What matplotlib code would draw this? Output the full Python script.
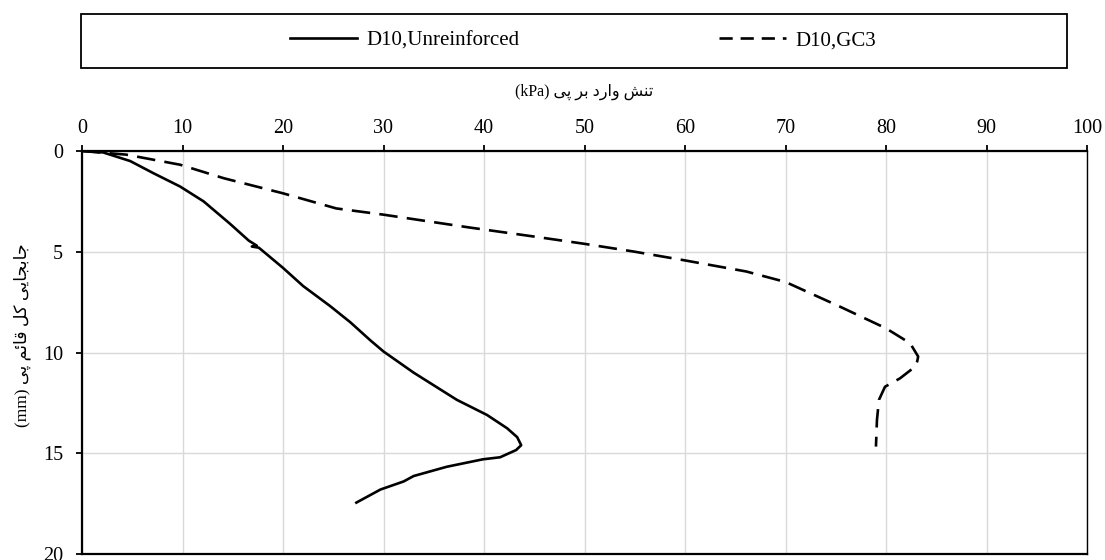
#!/usr/bin/env python3
"""load-settlement curves, D10 unreinforced vs GC3"""

import matplotlib
matplotlib.use("Agg")
import matplotlib.pyplot as plt
from matplotlib.lines import Line2D
from matplotlib.patches import Rectangle

# data (stress kPa, settlement mm)
unreinf_stress = [0.0, 2.1, 4.8, 7.1, 9.75, 12.1, 14.7, 16.6, 17.4, 16.9, 17.6,
                  20.0, 22.0, 24.7, 26.7, 28.7, 30.0, 33.0, 37.3, 40.3, 42.3,
                  43.3, 43.7, 43.2, 41.6, 39.9, 36.3, 33.0, 32.0, 29.7, 27.3]
unreinf_settle = [0.0, 0.07, 0.5, 1.1, 1.76, 2.5, 3.6, 4.45, 4.7, 4.74, 4.8,
                  5.8, 6.7, 7.7, 8.5, 9.4, 9.95, 11.0, 12.35, 13.1, 13.76,
                  14.2, 14.6, 14.84, 15.2, 15.3, 15.67, 16.13, 16.4, 16.8, 17.45]

gc3_stress = [0.0, 4.4, 9.75, 14.1, 20.0, 25.3, 30.0, 38.6, 44.9, 49.9, 54.9,
              60.0, 66.1, 70.0, 75.4, 80.0, 82.4, 83.2, 83.1, 82.9, 81.4, 79.9,
              79.3, 79.1, 79.0]
gc3_settle = [0.0, 0.18, 0.68, 1.35, 2.1, 2.85, 3.16, 3.8, 4.24, 4.6, 4.99,
              5.43, 5.98, 6.5, 7.72, 8.8, 9.54, 10.2, 10.45, 10.7, 11.28, 11.7,
              12.35, 13.35, 14.67]

x_ticks = [0, 10, 20, 30, 40, 50, 60, 70, 80, 90, 100]
y_ticks = [0, 5, 10, 15, 20]
labels = ["D10,Unreinforced", "D10,GC3"]

# minimal persian shaping (matplotlib has no bidi / joining)
FORMS = {
    "ا": (0xFE8D, 0xFE8E), "د": (0xFEA9, 0xFEAA), "ر": (0xFEAD, 0xFEAE),
    "و": (0xFEED, 0xFEEE),
    "ب": (0xFE8F, 0xFE90, 0xFE91, 0xFE92), "پ": (0xFB56, 0xFB57, 0xFB58, 0xFB59),
    "ت": (0xFE95, 0xFE96, 0xFE97, 0xFE98), "ج": (0xFE9D, 0xFE9E, 0xFE9F, 0xFEA0),
    "ش": (0xFEB5, 0xFEB6, 0xFEB7, 0xFEB8), "ق": (0xFED5, 0xFED6, 0xFED7, 0xFED8),
    "ک": (0xFB8E, 0xFB8F, 0xFB90, 0xFB91), "ل": (0xFEDD, 0xFEDE, 0xFEDF, 0xFEE0),
    "م": (0xFEE1, 0xFEE2, 0xFEE3, 0xFEE4), "ن": (0xFEE5, 0xFEE6, 0xFEE7, 0xFEE8),
    "ی": (0xFBFC, 0xFBFD, 0xFBFE, 0xFBFF), "ئ": (0xFE89, 0xFE8A, 0xFE8B, 0xFE8C),
}


def shape_fa(text):
    """join persian letters and return them in visual (left-to-right) order."""
    out = []
    for i, ch in enumerate(text):
        if ch not in FORMS:
            out.append(ch)
            continue
        prev = text[i - 1] if i > 0 else ""
        nxt = text[i + 1] if i + 1 < len(text) else ""
        join_prev = prev in FORMS and len(FORMS[prev]) == 4
        join_next = len(FORMS[ch]) == 4 and nxt in FORMS
        f = FORMS[ch]
        if join_prev and join_next:
            out.append(chr(f[3]))
        elif join_prev:
            out.append(chr(f[1]))
        elif join_next:
            out.append(chr(f[2]))
        else:
            out.append(chr(f[0]))
    return "".join(out)[::-1]


xlabel = "(kPa) " + shape_fa("تنش وارد بر پی")
ylabel = "(mm) " + shape_fa("جابجایی کل قائم پی")

plt.rcParams["font.family"] = ["Liberation Serif", "DejaVu Sans"]

W, H = 1105, 560
fig = plt.figure(figsize=(W / 100, H / 100), dpi=100)
ax = fig.add_axes([82 / W, 1 - 554 / H, (1087 - 82) / W, (554 - 151) / H])

ax.plot(unreinf_stress, unreinf_settle, color="black", linewidth=1.9,
        solid_joinstyle="round")
ax.plot(gc3_stress, gc3_settle, color="black", linewidth=1.9,
        linestyle=(0, (7.0, 3.5)), dash_joinstyle="round")

ax.set_xlim(0, 100)
ax.set_ylim(20, 0)
ax.set_xticks(x_ticks)
ax.set_yticks(y_ticks)
ax.xaxis.tick_top()
ax.tick_params(axis="x", which="both", top=True, bottom=False, direction="out",
               length=4.5, width=1.3, pad=5, labelsize=14.5)
ax.tick_params(axis="y", direction="out", length=4.5, width=1.3, pad=9,
               labelsize=14.5)
ax.grid(True, color="#d9d9d9", linewidth=1.0)
ax.set_axisbelow(True)
for side in ["top", "left", "bottom"]:
    ax.spines[side].set_linewidth(1.6)
ax.spines["right"].set_linewidth(1.0)

fig.text(584 / W, 1 - 92 / H, xlabel, ha="center", va="center", fontsize=11.5)
fig.text(22 / W, 1 - 335 / H, ylabel, ha="center", va="center", fontsize=12.5,
         rotation=90)

# legend box across the top
fig.patches.append(Rectangle((81 / W, 1 - 68 / H), (1067 - 81) / W, 54 / H,
                             transform=fig.transFigure, fill=False,
                             edgecolor="black", linewidth=1.3))
handles = [Line2D([], [], color="black", linewidth=1.9),
           Line2D([], [], color="black", linewidth=1.9, linestyle=(0, (5.0, 3.0)))]
fig.legend(handles, labels, loc="center", bbox_to_anchor=(583 / W, 1 - 41 / H),
           ncol=2, frameon=False, fontsize=15, handlelength=3.2,
           handletextpad=0.45, columnspacing=9.6)

fig.savefig("out.png", dpi=100)
